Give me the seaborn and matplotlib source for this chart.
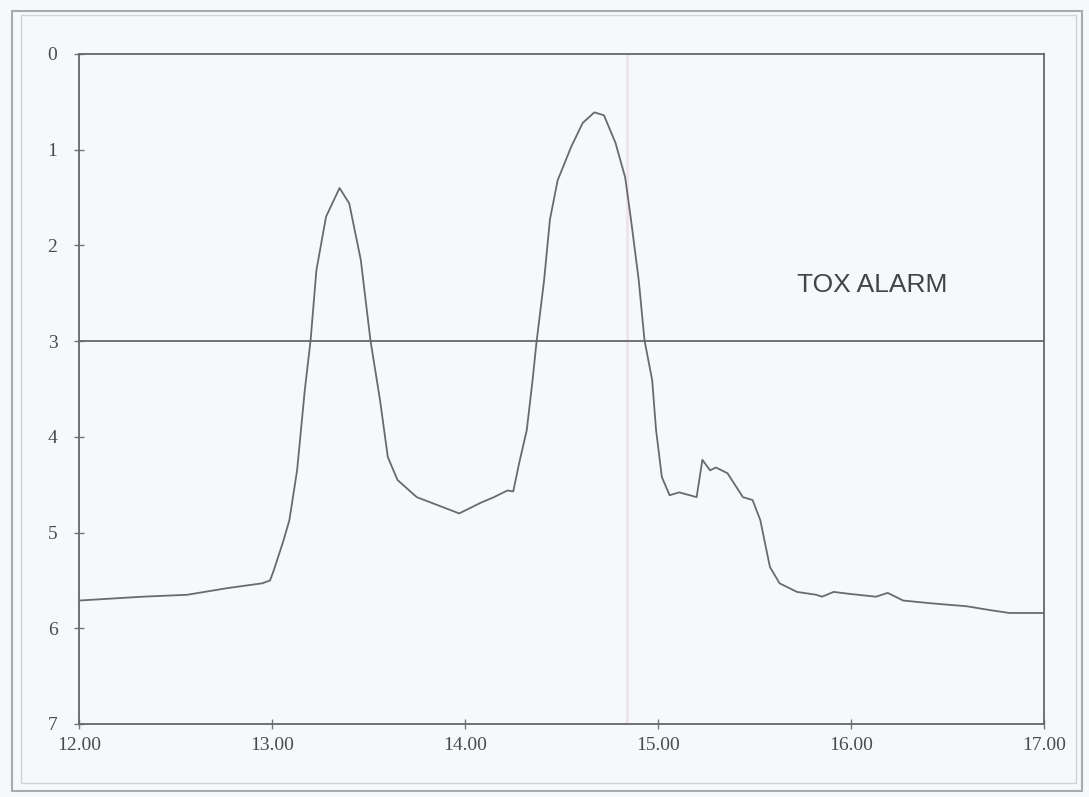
import numpy as np
import pandas as pd
import matplotlib
matplotlib.use("Agg")
import matplotlib.pyplot as plt
import seaborn as sns
from matplotlib.patches import Rectangle

# -----------------------------
# Data (time in hours, reading on inverted scale)
# -----------------------------
time_h = [12.00, 12.33, 12.56, 12.77, 12.95, 12.99, 13.01, 13.06, 13.09, 13.13,
          13.17, 13.20, 13.23, 13.28, 13.35, 13.40, 13.46, 13.51, 13.56, 13.60,
          13.65, 13.75, 13.97, 14.08, 14.15, 14.22, 14.25, 14.28, 14.32, 14.35,
          14.37, 14.41, 14.44, 14.48, 14.55, 14.61, 14.67, 14.72, 14.78, 14.83,
          14.86, 14.90, 14.93, 14.97, 14.99, 15.02, 15.06, 15.11, 15.20, 15.23,
          15.27, 15.30, 15.36, 15.44, 15.49, 15.53, 15.58, 15.63, 15.72, 15.82,
          15.85, 15.91, 15.99, 16.13, 16.19, 16.27, 16.42, 16.60, 16.72, 16.82,
          17.00]
reading = [5.71, 5.67, 5.65, 5.58, 5.53, 5.50, 5.39, 5.08, 4.87, 4.35,
           3.51, 2.99, 2.26, 1.70, 1.40, 1.56, 2.15, 2.99, 3.62, 4.21,
           4.45, 4.63, 4.80, 4.69, 4.63, 4.56, 4.57, 4.28, 3.93, 3.41,
           3.02, 2.36, 1.73, 1.32, 0.97, 0.72, 0.61, 0.64, 0.93, 1.29,
           1.73, 2.36, 2.99, 3.41, 3.93, 4.42, 4.61, 4.58, 4.63, 4.24,
           4.35, 4.32, 4.38, 4.63, 4.66, 4.87, 5.36, 5.53, 5.62, 5.65,
           5.67, 5.62, 5.64, 5.67, 5.63, 5.71, 5.74, 5.77, 5.81, 5.84,
           5.84]

alarm_level = 3
alarm_label = "TOX ALARM"
x_ticks = [12, 13, 14, 15, 16, 17]
x_tick_labels = ["12.00", "13.00", "14.00", "15.00", "16.00", "17.00"]
y_ticks = [0, 1, 2, 3, 4, 5, 6, 7]

df = pd.DataFrame({"time": time_h, "reading": reading})

# -----------------------------
# Plot
# -----------------------------
sns.set_style("white")
plt.rcParams["font.family"] = ["Liberation Serif", "DejaVu Serif"]

paper = "#f5f9fc"
ink = "#4a4a4a"

fig = plt.figure(figsize=(10.89, 7.97), dpi=100, facecolor=paper)
ax = fig.add_axes([79 / 1089, 1 - 724 / 797, (1044 - 79) / 1089, (724 - 54) / 797])
ax.set_facecolor(paper)

# page border
fig.patches.append(Rectangle((12 / 1089, 1 - 791 / 797), 1070 / 1089, 780 / 797,
                             transform=fig.transFigure, fill=False,
                             edgecolor="#aaaaaa", linewidth=1.5))
fig.patches.append(Rectangle((21 / 1089, 1 - 783 / 797), 1055 / 1089, 768 / 797,
                             transform=fig.transFigure, fill=False,
                             edgecolor="#d0d4d8", linewidth=1.0))

# fold crease in the paper
ax.axvline(14.84, color="#f0e2ee", linewidth=2, zorder=0)

sns.lineplot(data=df, x="time", y="reading", ax=ax, color="#6a6a6a",
             linewidth=1.3, estimator=None, sort=False)

ax.axhline(alarm_level, color="#666666", linewidth=1.3)
ax.text(15.72, 2.41, alarm_label, family=["Liberation Sans", "DejaVu Sans"],
        fontsize=19, color="#444444", va="center", ha="left")

ax.set_xlim(12, 17)
ax.set_ylim(7, 0)
ax.set_xticks(x_ticks)
ax.set_xticklabels(x_tick_labels)
ax.set_yticks(y_ticks)
ax.set_xlabel("")
ax.set_ylabel("")

for s in ax.spines.values():
    s.set_color("#666666")
    s.set_linewidth(1.3)

ax.tick_params(axis="both", bottom=True, left=True, direction="inout",
               length=7, width=1, color="#777777", labelcolor=ink, labelsize=14)
ax.tick_params(axis="y", pad=12)
ax.tick_params(axis="x", pad=6)

fig.savefig("out.png", dpi=100, facecolor=paper)
